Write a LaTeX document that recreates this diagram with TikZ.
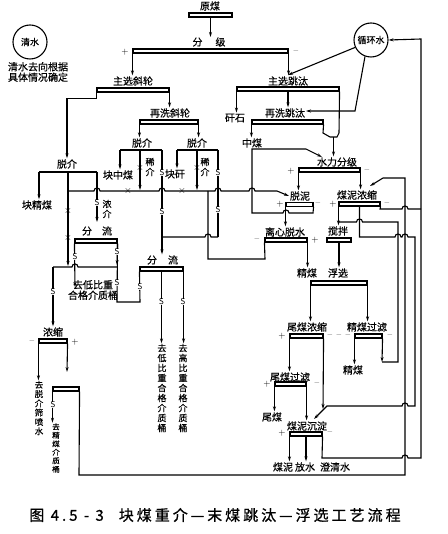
\documentclass[tikz,border=0pt]{standalone}
\usepackage{fontspec}
\newfontfamily\cjk[FakeBold=0.4]{Noto Sans CJK SC}
\newfontfamily\cjkcap[LetterSpace=20,FakeBold=0.8]{Noto Sans CJK SC}
\usetikzlibrary{arrows.meta}
% small bridge where a line jumps over another one
\newcommand\hopr[2]{-- ({#1-3},#2) .. controls ({#1-3},{#2-4}) and ({#1+3},{#2-4}) .. ({#1+3},#2)}
\newcommand\hopl[2]{-- ({#1+3},#2) .. controls ({#1+3},{#2-4}) and ({#1-3},{#2-4}) .. ({#1-3},#2)}
\begin{document}
\begin{tikzpicture}[x=1pt, y=-1pt, line width=1.1pt,
    lbl/.style={font=\cjk\fontsize{10}{10.5}\selectfont, inner sep=0.5pt},
    vtxt/.style={font=\cjk\fontsize{9}{10}\selectfont, align=center, inner sep=0pt},
    unit/.style={draw, minimum height=4pt, inner sep=0pt},
    water/.style={draw, circle, minimum size=34pt, inner sep=0pt, font=\cjk\fontsize{9}{10}\selectfont},
    flow/.style={-{Stealth[length=5pt,width=3pt]}},
    smark/.style={font=\sffamily\fontsize{8.5}{8.5}\selectfont, fill=white, inner sep=0.3pt},
    xmark/.style={font=\fontsize{10}{10}\selectfont, inner sep=0pt},
    sgn/.style={font=\fontsize{9}{9}\selectfont, inner sep=0pt}]
  \useasboundingbox (0,0) rectangle (447,534);

  % water circles
  \node[water] (qingshui) at (30,42) {清水};
  \node[lbl, align=center] (qsnote) at (38,72) {清水去向根据\\具体情况确定};
  \node[water] (xunhuan) at (371,40) {循环水};

  % labels
  \node[lbl] (yuanmei) at (210,6) {原煤};
  \node[lbl] (fenji) at (209,42) {分\hspace{13pt}级};
  \node[lbl] (zhuxie) at (133,81) {主选斜轮};
  \node[lbl] (zaixie) at (170,113) {再洗斜轮};
  \node[lbl] (tjA) at (67,164) {脱介};
  \node[lbl] (tjB) at (142,143) {脱介};
  \node[lbl] (tjC) at (197,143) {脱介};
  \node[lbl] (kjm) at (37,205) {块精煤};
  \node[lbl] (kzm) at (118,175) {块中煤};
  \node[lbl] (kg) at (175,174) {块矸};
  \node[vtxt] (nongjie) at (107,209) {浓\\介};
  \node[vtxt] (xijieB) at (150,167) {稀\\介};
  \node[vtxt] (xijieC) at (205,167) {稀\\介};
  \node[lbl] (fenliuA) at (97,231) {分\hspace{10pt}流};
  \node[lbl] (fenliuB) at (162.5,260) {分\hspace{11pt}流};
  \node[lbl, align=center] (dbzA) at (93,290) {去低比重\\合格介质桶};
  \node[lbl] (nongsuo) at (53,332) {浓缩};
  \node[vtxt, font=\cjk\fontsize{8.5}{9.3}\selectfont] (ptjs) at (39,408) {去\\脱\\介\\筛\\喷\\水};
  \node[vtxt, font=\cjk\fontsize{7.5}{8.5}\selectfont] (jmjz) at (56,448) {去\\精\\煤\\介\\质\\桶};
  \node[vtxt] (dbzB) at (162,388) {去\\低\\比\\重\\合\\格\\介\\质\\桶};
  \node[vtxt] (gbzB) at (183,388) {去\\高\\比\\重\\合\\格\\介\\质\\桶};
  \node[lbl] (zhutiao) at (288,81) {主选跳汰};
  \node[lbl] (ganshi) at (235,118) {矸石};
  \node[lbl] (zaitiao) at (285,113) {再洗跳汰};
  \node[lbl] (zhongmei) at (252,143) {中煤};
  \node[lbl] (shuili) at (337,162) {水力分级};
  \node[lbl] (tuoni) at (300,196) {脱泥};
  \node[lbl] (mnns) at (357,195) {煤泥浓缩};
  \node[lbl] (lxts) at (285,232) {离心脱水};
  \node[lbl] (jiaoban) at (338,231) {搅拌};
  \node[lbl] (jingmeiA) at (307,273) {精煤};
  \node[lbl] (fuxuan) at (338,273) {浮选};
  \node[lbl] (wmns) at (307,327) {尾煤浓缩};
  \node[lbl] (jmgl) at (367,327) {精煤过滤};
  \node[lbl] (jingmeiB) at (353,370) {精煤};
  \node[lbl] (wmgl) at (290,377) {尾煤过滤};
  \node[lbl] (weimei) at (272,417) {尾煤};
  \node[lbl] (mncd) at (307,426) {煤泥沉淀};
  \node[lbl] (meini) at (283,467) {煤泥};
  \node[lbl] (fangshui) at (305,467) {放水};
  \node[lbl] (chengqing) at (335,467) {澄清水};
  \node[font=\cjkcap\fontsize{15}{15}\selectfont, inner sep=0pt] (caption) at (215,515)
    {图 4.5 - 3\hspace{1em}块煤重介—末煤跳汰—浮选工艺流程};

  % machines
  \node[unit, minimum width=43pt] (yuanmeib) at (210.5,15) {};
  \node[unit, minimum width=155pt] (fenjib) at (210.5,51) {};
  \node[unit, minimum width=72pt] (zhuxieb) at (133,90) {};
  \node[unit, minimum width=58pt] (zaixieb) at (169,122) {};
  \node[unit, minimum width=42pt] (fenliuab) at (96,241) {};
  \node[unit, minimum width=43pt] (fenliubb) at (161.5,269) {};
  \node[unit, minimum width=28pt] (nongsuob) at (53,341) {};
  \node[unit, minimum width=26pt] (magb) at (66,389) {};
  \node[unit, minimum width=102pt] (zhutiaob) at (288,89) {};
  \node[unit, minimum width=71pt] (zaitiaob) at (287.5,122) {};
  \node[unit, minimum width=61pt] (shuilib) at (329.5,170) {};
  \node[unit, minimum width=27pt] (tuonib) at (299.5,204.5) {};
  \node[unit, minimum width=41pt] (mnnsb) at (359.5,204) {};
  \node[unit, minimum width=42pt] (lxtsb) at (286,240) {};
  \node[unit, minimum width=24pt] (jiaobanb) at (339,240) {};
  \node[unit, minimum width=56pt] (fuxuanb) at (339,283) {};
  \node[unit, minimum width=33pt] (wmnsb) at (306.5,336) {};
  \node[unit, minimum width=27pt] (jmglb) at (368.5,336) {};
  \node[unit, minimum width=31pt] (wmglb) at (290.5,384) {};
  \node[unit, minimum width=32pt] (mncdb) at (306,434) {};

  % screens
  \coordinate (sa1) at (39,172);
  \coordinate (sa2) at (68,172);
  \coordinate (sa3) at (97,172);
  \coordinate (sb1) at (120,150);
  \coordinate (sb2) at (140,150);
  \coordinate (sb3) at (162,150);
  \coordinate (sc1) at (177,150);
  \coordinate (sc2) at (197,150);
  \coordinate (sc3) at (218,150);
  \coordinate (hopper) at (333.5,137);

  % heavy medium part
  \draw[flow] (yuanmeib.south) -- (210.5,37);
  \draw[flow] (fenjib.south west) -- (fenjib.south west |- zhuxie.north);
  \draw[flow] (fenjib.south east) -- (fenjib.south east |- zhutiao.north);
  \draw[flow] (zhuxieb.south west) -- ++(0,6) -| (tjA.north);
  \draw[flow] (zhuxieb.south east) -- (zhuxieb.south east |- zaixie.north);
  \draw[flow] (zaixieb.south west) -- (zaixieb.south west |- tjB.north);
  \draw[flow] (zaixieb.south east) -- (zaixieb.south east |- tjC.north);

  \draw (sa1) -- (sa3);
  \draw[flow] (sa1) -- (sa1 |- kjm.north);
  \draw[flow] (sa2) -- (68,266);
  \draw[flow] (sa3) -- (97,222);
  \draw (sb1) -- (sb3);
  \draw[flow] (sb1) -- (sb1 |- kzm.north);
  \draw[flow] (sb2) -- (140,190);
  \draw (sb3) -- (162,237);
  \draw (sc1) -- (sc3);
  \draw[flow] (sc1) -- (sc1 |- kg.north);
  \draw[flow] (sc2) -- (197,190);
  \draw (sc3) -- (218,237);
  \draw (162,237) \hopr{208}{237} -- (218,237);
  \draw[flow] (162,237) -- (162,237 |- fenliuB.north);

  \draw[flow] (68,191) \hopr{97}{191} \hopr{162}{191} \hopr{218}{191} \hopr{252}{191}
    -- (277,191) -- (tuoni.west);
  \draw (lxtsb.south west) -- (265,259) -- (208,259) -- (208,191);

  \draw[flow] (fenliuab.south west) -- (75,287);
  \draw (fenliuab.south east) -- (117,302) -- (140,302) -- (fenliubb.south west);
  \draw[flow] (fenliuab.south east) -- (117,265);
  \draw (53,267) -- (68,267) \hopr{75}{267} -- (117,267);
  \draw[flow] (53,267) -- (nongsuo.north);
  \draw[flow] (fenliubb.south) -- (fenliubb.south |- dbzB.north);
  \draw[flow] (fenliubb.south east) -- (fenliubb.south east |- gbzB.north);

  \draw[flow] (nongsuob.south west) -- (nongsuob.south west |- ptjs.north);
  \draw[flow] (nongsuob.south east) -- (67,372);
  \draw[flow] (magb.south west) -- (magb.south west |- jmjz.north);
  \draw[flow] (magb.south east) -- (79,475) -- (405,475) -- (405,178) -- (383,178) -- (370,186);

  % jig part
  \draw[flow] (zhutiaob.south west) -- (zhutiaob.south west |- ganshi.north);
  \draw[flow] (zhutiaob.south) -- (zhutiaob.south |- zaitiao.north);
  \draw (zaitiaob.south east) -- (323,133) -- (330,137) -- (337,137) -- (339,133) -- (zhutiaob.south east);
  \draw[flow] (hopper) -- (hopper |- shuili.north);
  \draw[flow] (zaitiaob.south west) -- (zaitiaob.south west |- zhongmei.north);
  \draw[flow] (tuonib.south east) -- (313,213) \hopl{286}{213} -- (252,213) -- (252,149)
    -- (306,149) -- (322,157);
  \draw[flow] (xunhuan.205) -- (288,75);
  \draw[flow] (xunhuan.250) -- (355,111) -- (306,111);

  % slime part
  \draw[flow] (shuilib.south west) -- (shuilib.south west |- tuoni.north);
  \draw[flow] (shuilib.south east) -- (shuilib.south east |- mnns.north);
  \draw[flow] (tuonib.south west) -- (tuonib.south west |- lxts.north);
  \draw[flow] (lxtsb.south east) -- (lxtsb.south east |- jingmeiA.north);
  \draw[flow] (mnnsb.south west) -- (mnnsb.south west |- jiaoban.north);
  \draw (mnnsb.south east) -- (380,209) \hopr{405}{209} -- (421,209);
  \draw[flow] (mnnsb.south) -- (359.5,237) \hopr{398}{237} \hopr{405}{237} -- (415,237)
    -- (415,406) \hopl{405}{406} -- (327,406) -- (314,419);
  \draw[flow] (jmglb.south east) -- (382,362);
  \draw (382,362) -- (398,362) -- (398,222) \hopl{359.5}{222} -- (339,222);
  \draw[flow] (jiaobanb.south) -- (jiaobanb.south |- fuxuan.north);
  \draw[flow] (fuxuanb.south west) -- (fuxuanb.south west |- wmns.north);
  \draw[flow] (fuxuanb.south east) -- (fuxuanb.south east |- jmgl.north);
  \draw[flow] (wmnsb.south west) -- (wmnsb.south west |- wmgl.north);
  \draw[flow] (wmnsb.south east) -- (323,409);
  \draw[flow] (jmglb.south west) -- (jmglb.south west |- jingmeiB.north);
  \draw[flow] (wmglb.south west) -- (wmglb.south west |- weimei.north);
  \draw[flow] (wmglb.south east) -- (wmglb.south east |- mncd.north);
  \draw[flow] (mncdb.south west) -- (mncdb.south west |- meini.north);
  \draw[flow] (mncdb.south) -- (mncdb.south |- fangshui.north);
  \draw[flow] (mncdb.south east) -- (322,458) \hopr{405}{458} -- (421,458) -- (421,39) -- (xunhuan.east);

  % S and x marks
  \foreach \p in {(97,203),(162,173),(162,212),(218,173),(218,210),(75,257),(117,252),
      (117,283),(140,287),(53,292),(161.5,302),(183,302),(53,405)}
    \node[smark] at \p {S};
  \foreach \p in {(68,211),(68,238),(140,168),(197,168),(128,191),(182,191)}
    \node[xmark] at \p {$\times$};

  % plus and minus
  \foreach \p in {(125,52),(291,171),(280,204),(333,204),(315,240),(75,342),(282,336),(267,384),(282,433)}
    \node[sgn] at \p {+};
  \foreach \p in {(296,52),(367,171),(318,204),(387,204),(257,240),(32,342),(330,336),(339,336),
      (348,336),(390,336),(317,384),(330,433)}
    \node[sgn] at \p {\textendash};
\end{tikzpicture}
\end{document}
